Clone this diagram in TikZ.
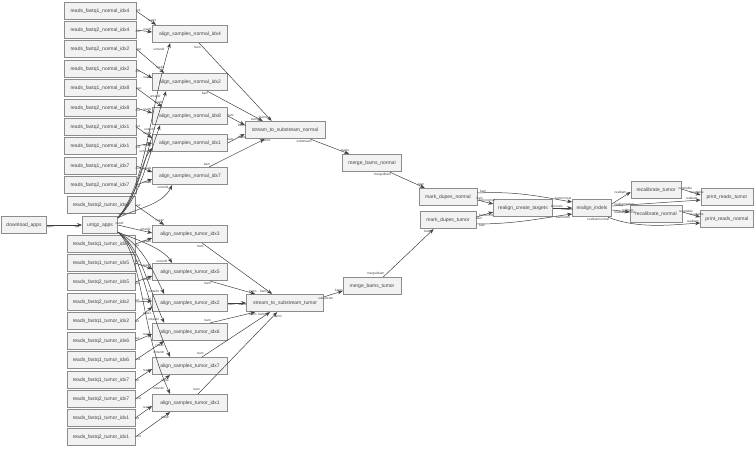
\documentclass[tikz,border=0pt]{standalone}
\usepackage{fontspec}
\setmainfont{Liberation Sans}
\usetikzlibrary{arrows.meta}
\definecolor{boxfill}{HTML}{F2F2F2}
\definecolor{boxline}{HTML}{8C8C8C}
\definecolor{ink}{HTML}{444444}
\definecolor{wire}{HTML}{404040}
\begin{document}
\begin{tikzpicture}[x=1pt,y=-1pt,
  box/.style={draw=boxline,fill=boxfill,text=ink,font=\fontsize{5}{6}\selectfont,minimum height=17.5pt,inner sep=1pt,line width=.7pt},
  fq/.style={box,minimum width=72pt},fqt/.style={box,minimum width=68pt},al/.style={box,minimum width=75pt},
  ed/.style={draw=wire,line width=.5pt,-{Stealth[length=5pt,width=3.8pt]}},
  lb/.style={font=\fontsize{3.2}{3.5}\selectfont,text=ink,inner sep=.4pt}]
\useasboundingbox (0,0) rectangle (756,450);
\node[box,minimum width=45pt] (dl) at (24,225) {download\_apps};
\node[box,minimum width=35pt] (untgz) at (100,225) {untgz\_apps};
\node[fq] (fq1n4) at (100,11) {reads\_fastq1\_normal\_idx4};\node[fq] (fq2n4) at (100,30) {reads\_fastq2\_normal\_idx4};
\node[fq] (fq2n2) at (100,49) {reads\_fastq2\_normal\_idx2};\node[fq] (fq1n2) at (100,69) {reads\_fastq1\_normal\_idx2};
\node[fq] (fq1n8) at (100,88) {reads\_fastq1\_normal\_idx8};\node[fq] (fq2n8) at (100,108) {reads\_fastq2\_normal\_idx8};
\node[fq] (fq2n1) at (100,127) {reads\_fastq2\_normal\_idx1};\node[fq] (fq1n1) at (100,146) {reads\_fastq1\_normal\_idx1};
\node[fq] (fq1n7) at (100,166) {reads\_fastq1\_normal\_idx7};\node[fq] (fq2n7) at (100,185) {reads\_fastq2\_normal\_idx7};
\node[fqt] (fq2t3) at (101,205) {reads\_fastq2\_tumor\_idx3};\node[fqt] (fq1t3) at (101,244) {reads\_fastq1\_tumor\_idx3};
\node[fqt] (fq1t5) at (101,263) {reads\_fastq1\_tumor\_idx5};\node[fqt] (fq2t5) at (101,282) {reads\_fastq2\_tumor\_idx5};
\node[fqt] (fq2t2) at (101,302) {reads\_fastq2\_tumor\_idx2};\node[fqt] (fq1t2) at (101,321) {reads\_fastq1\_tumor\_idx2};
\node[fqt] (fq2t6) at (101,341) {reads\_fastq2\_tumor\_idx6};\node[fqt] (fq1t6) at (101,360) {reads\_fastq1\_tumor\_idx6};
\node[fqt] (fq1t7) at (101,380) {reads\_fastq1\_tumor\_idx7};\node[fqt] (fq2t7) at (101,399) {reads\_fastq2\_tumor\_idx7};
\node[fqt] (fq1t1) at (101,418) {reads\_fastq1\_tumor\_idx1};\node[fqt] (fq2t1) at (101,437) {reads\_fastq2\_tumor\_idx1};
\node[al] (aln4) at (190,34) {align\_samples\_normal\_idx4};\node[al] (aln2) at (190,82) {align\_samples\_normal\_idx2};
\node[al] (aln8) at (190,116) {align\_samples\_normal\_idx8};\node[al] (aln1) at (190,143) {align\_samples\_normal\_idx1};
\node[al] (aln7) at (190,176) {align\_samples\_normal\_idx7};
\node[al] (alt3) at (190,234) {align\_samples\_tumor\_idx3};\node[al] (alt5) at (190,272) {align\_samples\_tumor\_idx5};
\node[al] (alt2) at (190,303) {align\_samples\_tumor\_idx2};\node[al] (alt6) at (190,332) {align\_samples\_tumor\_idx6};
\node[al] (alt7) at (190,366) {align\_samples\_tumor\_idx7};\node[al] (alt1) at (190,403) {align\_samples\_tumor\_idx1};
\node[box,minimum width=80pt] (streamn) at (285,130) {stream\_to\_substream\_normal};
\node[box,minimum width=77pt] (streamt) at (285,303) {stream\_to\_substream\_tumor};
\node[box,minimum width=59pt] (mergen) at (372,163) {merge\_bams\_normal};\node[box,minimum width=58pt] (merget) at (372,286) {merge\_bams\_tumor};
\node[box,minimum width=58pt] (dupn) at (448,197) {mark\_dupes\_normal};\node[box,minimum width=56pt] (dupt) at (448,220) {mark\_dupes\_tumor};
\node[box,minimum width=59pt] (targets) at (523,208) {realign\_create\_targets};\node[box,minimum width=39pt] (indels) at (592,208) {realign\_indels};
\node[box,minimum width=50pt] (recalt) at (656,190) {recalibrate\_tumor};\node[box,minimum width=52pt] (recaln) at (656,214) {recalibrate\_normal};
\node[box,minimum width=52pt] (printt) at (727,197) {print\_reads\_tumor};\node[box,minimum width=53pt] (printn) at (727,219) {print\_reads\_normal};
\draw[ed] (dl) -- (untgz) node[lb,pos=.1,below]{apps} node[lb,pos=.85,below]{tgz};
\draw[ed] (fq1n4.east) -- ([xshift=4pt]aln4.north west) node[lb,pos=.1,above]{out} node[lb,pos=.8,above]{read1};
\draw[ed] (fq2n4.east) -- ([yshift=2pt]aln4.west) node[lb,pos=.1,below]{out} node[lb,pos=.7,above]{read2};
\draw[ed] (fq2n2.east) -- ([xshift=12pt]aln2.north west) node[lb,pos=.1,above]{out} node[lb,pos=.85,above]{read2};
\draw[ed] (fq1n2.east) -- ([yshift=4pt]aln2.west) node[lb,pos=.1,below]{out} node[lb,pos=.7,below]{read1};
\draw[ed] (fq1n8.east) -- ([xshift=10pt]aln8.north west) node[lb,pos=.1,above]{out} node[lb,pos=.85,above]{read1};
\draw[ed] (fq2n8.east) -- ([yshift=3pt]aln8.west) node[lb,pos=.1,below]{out} node[lb,pos=.7,above]{read2};
\draw[ed] (fq2n1.east) -- ([yshift=5pt]aln1.west) node[lb,pos=.1,above]{out} node[lb,pos=.7,above]{read2};
\draw[ed] (fq1n1.east) -- (aln1.west) node[lb,pos=.1,below]{out} node[lb,pos=.7,below]{read1};
\draw[ed] (fq1n7.east) -- ([yshift=4pt]aln7.west) node[lb,pos=.1,below]{out} node[lb,pos=.7,above]{read1};
\draw[ed] (fq2n7.east) -- ([yshift=-3pt]aln7.west) node[lb,pos=.1,below]{out} node[lb,pos=.7,below]{read2};
\draw[ed] (fq2t3.east) -- ([xshift=12pt]alt3.north west) node[lb,pos=.1,above]{out} node[lb,pos=.85,above]{read2};
\draw[ed] (fq1t3.east) -- ([yshift=-4pt]alt3.west) node[lb,pos=.1,below]{out} node[lb,pos=.7,below]{read1};
\draw[ed] (fq1t5.east) -- ([yshift=3pt]alt5.west) node[lb,pos=.1,above]{out} node[lb,pos=.7,above]{read1};
\draw[ed] (fq2t5.east) -- ([yshift=-4pt]alt5.west) node[lb,pos=.1,below]{out} node[lb,pos=.7,below]{read2};
\draw[ed] (fq2t2.east) -- ([yshift=2pt]alt2.west) node[lb,pos=.1,above]{out} node[lb,pos=.7,above]{read2};
\draw[ed] (fq1t2.east) -- ([yshift=-4pt]alt2.west) node[lb,pos=.1,below]{out} node[lb,pos=.7,below]{read1};
\draw[ed] (fq2t6.east) -- ([yshift=-2pt]alt6.west) node[lb,pos=.1,above]{out} node[lb,pos=.7,above]{read2};
\draw[ed] (fq1t6.east) -- ([xshift=12pt]alt6.south west) node[lb,pos=.1,below]{out} node[lb,pos=.85,below]{read1};
\draw[ed] (fq1t7.east) -- ([yshift=-3pt]alt7.west) node[lb,pos=.1,below]{out} node[lb,pos=.7,above]{read1};
\draw[ed] (fq2t7.east) -- ([xshift=18pt]alt7.south west) node[lb,pos=.1,below]{out} node[lb,pos=.85,below]{read2};
\draw[ed] (fq1t1.east) -- ([yshift=-3pt]alt1.west) node[lb,pos=.1,below]{out} node[lb,pos=.7,above]{read1};
\draw[ed] (fq2t1.east) -- ([xshift=18pt]alt1.south west) node[lb,pos=.1,below]{out} node[lb,pos=.85,below]{read2};
\draw[ed] ([yshift=-2pt]untgz.north east) .. controls +(28,-35) and +(-22,75) .. ([xshift=18pt]aln4.south west) node[lb,pos=.97,left=3pt]{untardir};
\draw[ed] ([yshift=-2pt]untgz.north east) .. controls +(24,-28) and +(-20,58) .. ([xshift=14pt]aln2.south west) node[lb,pos=.97,left=3pt]{untardir};
\draw[ed] ([yshift=-2pt]untgz.north east) .. controls +(22,-22) and +(-16,45) .. ([xshift=8pt]aln8.south west) node[lb,pos=.97,left=3pt]{untardir};
\draw[ed] ([yshift=-2pt]untgz.north east) .. controls +(18,-15) and +(-12,15) .. ([yshift=-5pt]aln1.west) node[lb,pos=.97,below left]{untardir};
\draw[ed] ([yshift=-2pt]untgz.north east) .. controls +(20,-10) and +(-10,20) .. ([xshift=20pt]aln7.south west) node[lb,pos=.97,left=2pt]{untardir};
\draw[ed] (untgz.east) -- ([yshift=1pt]alt3.west) node[lb,pos=.05,above]{outdir} node[lb,pos=.8,above]{untardir};
\draw[ed] ([yshift=2pt]untgz.south east) .. controls +(20,8) and +(-10,-15) .. ([xshift=20pt]alt5.north west) node[lb,pos=.97,left=3pt]{untardir};
\draw[ed] ([yshift=2pt]untgz.south east) .. controls +(22,12) and +(-14,-30) .. ([xshift=12pt]alt2.north west) node[lb,pos=.97,left=3pt]{untardir};
\draw[ed] ([yshift=2pt]untgz.south east) .. controls +(22,15) and +(-18,-42) .. ([xshift=12pt]alt6.north west) node[lb,pos=.97,left=3pt]{untardir};
\draw[ed] ([yshift=2pt]untgz.south east) .. controls +(24,18) and +(-24,-52) .. ([xshift=18pt]alt7.north west) node[lb,pos=.97,left=3pt]{untardir};
\draw[ed] ([yshift=2pt]untgz.south east) .. controls +(26,24) and +(-30,-64) .. ([xshift=18pt]alt1.north west) node[lb,pos=.97,left=3pt]{untardir};
\node[lb,anchor=south west] (outdir) at (untgz.north east) {outdir};
\draw[ed] ([xshift=47pt]aln4.south west) -- ([xshift=27pt]streamn.north west) node[lb,pos=.03,below left]{bam} node[lb,pos=.95,left]{bams};
\draw[ed] ([xshift=55pt]aln2.south west) -- ([xshift=18pt]streamn.north west) node[lb,pos=.03,below left]{bam} node[lb,pos=.95,left]{bams};
\draw[ed] (aln8.east) -- ([yshift=5pt]streamn.west) node[lb,pos=.15,above]{bam} node[lb,pos=.85,below]{bams};
\draw[ed] (aln1.east) -- ([yshift=-4pt]streamn.west) node[lb,pos=.15,above]{bam} node[lb,pos=.85,below]{bams};
\draw[ed] ([xshift=57pt]aln7.north west) -- ([xshift=20pt]streamn.south west) node[lb,pos=.03,above left]{bam} node[lb,pos=.95,right]{bams};
\draw[ed] ([xshift=50pt]alt3.south west) -- ([xshift=26pt]streamt.north west) node[lb,pos=.03,below left]{bam} node[lb,pos=.95,left]{bams};
\draw[ed] ([xshift=58pt]alt5.south west) -- ([xshift=9pt]streamt.north west) node[lb,pos=.03,below left]{bam} node[lb,pos=.95,above]{bams};
\draw[ed] (alt2.east) -- (streamt.west) node[lb,pos=.2,below]{bam} node[lb,pos=.8,below]{bams};
\draw[ed] ([xshift=58pt]alt6.north west) -- ([xshift=9pt]streamt.south west) node[lb,pos=.03,above left]{bam} node[lb,pos=.95,below]{bams};
\draw[ed] ([xshift=50pt]alt7.north west) -- ([xshift=24pt]streamt.south west) node[lb,pos=.03,above left]{bam} node[lb,pos=.95,left]{bams};
\draw[ed] ([xshift=46pt]alt1.north west) -- ([xshift=31pt]streamt.south west) node[lb,pos=.03,above left]{bam} node[lb,pos=.95,right]{bams};
\draw[ed] ([xshift=-15pt]streamn.south east) -- ([xshift=7pt]mergen.north west) node[lb,pos=.05,below left]{substream} node[lb,pos=.9,above]{bams};
\draw[ed] ([yshift=-3pt]streamt.north east) -- ([yshift=-5pt]merget.west) node[lb,pos=.1,below]{substream} node[lb,pos=.8,above]{bams};
\draw[ed] ([xshift=-12pt]mergen.south east) -- ([xshift=6pt]dupn.north west) node[lb,pos=.05,below left]{mergedbam} node[lb,pos=.9,above]{bam};
\draw[ed] ([xshift=-18pt]merget.north east) -- ([xshift=14pt]dupt.south west) node[lb,pos=.03,above left]{mergedbam} node[lb,pos=.95,left]{bam};
\draw[ed] ([yshift=4pt]dupn.east) .. controls +(40,-2) and +(-30,-5) .. ([yshift=6pt]indels.west) node[lb,pos=.05,above]{bam} node[lb,pos=.9,above]{bamnormal};
\draw[ed] ([yshift=-3pt]dupn.east) -- ([yshift=4pt]targets.west) node[lb,pos=.15,above]{bam} node[lb,pos=.6,above]{bamnormal};
\draw[ed] ([yshift=3pt]dupt.east) -- ([yshift=-4pt]targets.west) node[lb,pos=.15,below]{bam} node[lb,pos=.6,below]{bamtumor};
\draw[ed] ([yshift=-4pt]dupt.east) .. controls +(40,0) and +(-30,4) .. ([yshift=-6pt]indels.west) node[lb,pos=.05,below]{bam} node[lb,pos=.9,below]{bamtumor};
\draw[ed] (targets.east) -- (indels.west) node[lb,pos=.2,above]{intervals} node[lb,pos=.75,below]{intervals};
\draw[ed] ([yshift=4pt]indels.east) -- ([yshift=-2pt]recalt.west) node[lb,pos=.1,below right]{realbamtumor} node[lb,pos=.8,above left]{realbam};
\draw[ed] ([yshift=2pt]indels.east) -- ([yshift=-3pt]printt.west) node[lb,pos=.9,above]{realbam};
\draw[ed] ([yshift=-2pt]indels.east) -- ([yshift=2pt]recaln.west) node[lb,pos=.1,below right]{realbamnormal} node[lb,pos=.9,above]{realbam};
\draw[ed] ([xshift=-4pt]indels.south east) .. controls +(30,12) and +(-30,2) .. ([yshift=-4pt]printn.west) node[lb,pos=.02,below left]{realbamnormal} node[lb,pos=.92,above]{realbam};
\draw[ed] ([yshift=1pt]recalt.east) -- ([yshift=2pt]printt.west) node[lb,pos=.2,above]{recaltable} node[lb,pos=.8,above]{recaltable};
\draw[ed] ([yshift=2pt]recaln.east) -- ([yshift=2pt]printn.west) node[lb,pos=.2,above]{recaltable} node[lb,pos=.8,above]{recaltable};
\end{tikzpicture}
\end{document}
